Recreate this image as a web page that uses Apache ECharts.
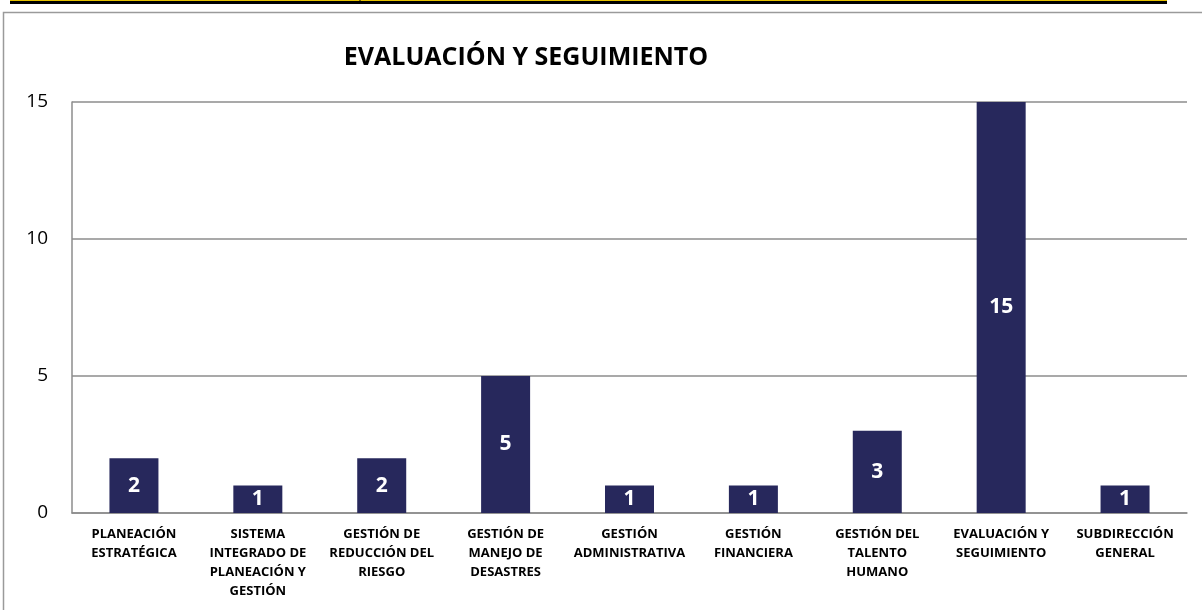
<!DOCTYPE html>
<html>
<head>
<meta charset="utf-8">
<script src="https://cdn.jsdelivr.net/npm/echarts@6/dist/echarts.min.js"></script>
<style>
  html, body { margin: 0; padding: 0; background: #fff; }
  #chart { width: 1202px; height: 610px; }
</style>
</head>
<body>
<div id="chart"></div>
<script>
// categorias y valores
var categories = [
  'PLANEACIÓN\nESTRATÉGICA',
  'SISTEMA\nINTEGRADO DE\nPLANEACIÓN Y\nGESTIÓN',
  'GESTIÓN DE\nREDUCCIÓN DEL\nRIESGO',
  'GESTIÓN DE\nMANEJO DE\nDESASTRES',
  'GESTIÓN\nADMINISTRATIVA',
  'GESTIÓN\nFINANCIERA',
  'GESTIÓN DEL\nTALENTO\nHUMANO',
  'EVALUACIÓN Y\nSEGUIMIENTO',
  'SUBDIRECCIÓN\nGENERAL'
];
var values = [2, 1, 2, 5, 1, 1, 3, 15, 1];
var yTicks = [0, 5, 10, 15];

var myChart = echarts.init(document.getElementById('chart'));
var font = '"Open Sans", "Noto Sans", sans-serif';

var option = {
  animation: false,
  title: {
    text: 'EVALUACIÓN Y SEGUIMIENTO',
    left: 521,
    top: 40,
    textAlign: 'center',
    textStyle: { fontFamily: font, fontWeight: 'bold', fontSize: 25, color: '#000' }
  },
  graphic: [
    // franja superior
    { type: 'rect', shape: { x: 10, y: 0, width: 1157, height: 2 }, style: { fill: '#e6c200' } },
    { type: 'rect', shape: { x: 10, y: 1, width: 1157, height: 3 }, style: { fill: '#000' } },
    { type: 'line', shape: { x1: 360, y1: 0, x2: 360, y2: 4 }, style: { stroke: '#000', lineWidth: 1 } },
    // borde del área del gráfico
    { type: 'polyline', shape: { points: [[3.5, 610], [3.5, 12.5], [1202, 12.5]] },
      style: { stroke: '#9a9a9a', lineWidth: 1.5, fill: null } }
  ],
  grid: { left: 72, right: 15, top: 102, bottom: 97 },
  xAxis: {
    type: 'category',
    data: categories,
    axisLine: { show: true, lineStyle: { color: '#8c8c8c', width: 1.5 } },
    axisTick: { show: false },
    axisLabel: {
      interval: 0,
      margin: 12,
      fontFamily: font,
      fontWeight: 'bold',
      fontSize: 13,
      lineHeight: 19,
      color: '#000',
      align: 'center'
    }
  },
  yAxis: {
    type: 'value',
    min: 0,
    max: 15,
    interval: 5,
    axisLine: { show: true, lineStyle: { color: '#8c8c8c', width: 1.5 } },
    axisTick: { show: false },
    axisLabel: {
      margin: 24,
      fontFamily: font,
      fontSize: 19,
      color: '#000',
      formatter: function (v) { return yTicks.indexOf(v) >= 0 ? String(v) : ''; }
    },
    splitLine: { lineStyle: { color: '#8c8c8c', width: 1.5 } }
  },
  series: [{
    type: 'bar',
    data: values,
    barWidth: 49,
    itemStyle: { color: '#27285c' },
    label: {
      show: true,
      position: 'inside',
      fontFamily: font,
      fontWeight: 'bold',
      fontSize: 21,
      color: '#fff'
    }
  }]
};
myChart.setOption(option);
</script>
</body>
</html>
